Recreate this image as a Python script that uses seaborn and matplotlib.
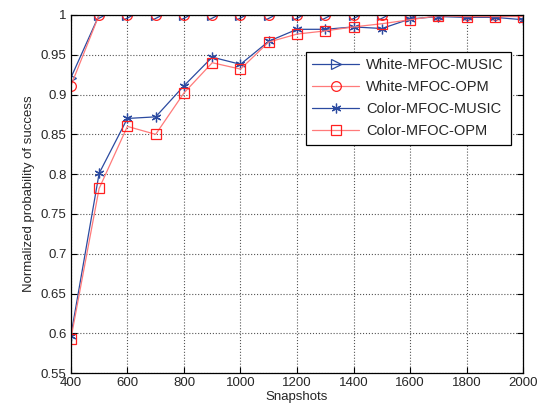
import pandas as pd
import matplotlib
matplotlib.use("Agg")
import matplotlib.pyplot as plt
import seaborn as sns

snapshots = [400, 500, 600, 700, 800, 900, 1000, 1100, 1200, 1300,
             1400, 1500, 1600, 1700, 1800, 1900, 2000]
white_music = [0.921, 1, 1, 1, 1, 1, 1, 1, 1, 1, 1, 1, 1, 1, 1, 1, 1]
white_opm = [0.911, 1, 1, 1, 1, 1, 1, 1, 1, 1, 1, 1, 1, 1, 1, 1, 1]
color_music = [0.597, 0.801, 0.870, 0.872, 0.911, 0.947, 0.938, 0.967, 0.982,
               0.982, 0.985, 0.983, 0.995, 0.998, 0.997, 0.997, 0.994]
color_opm = [0.593, 0.782, 0.860, 0.850, 0.902, 0.940, 0.932, 0.966, 0.976,
             0.980, 0.985, 0.989, 0.994, 0.999, 0.998, 0.998, 0.998]

sns.set_style("whitegrid", {"xtick.bottom": True, "ytick.left": True})
plt.rcParams['font.family'] = ['Liberation Sans', 'DejaVu Sans']

fig, ax = plt.subplots(figsize=(5.45, 4.16), dpi=100)
fig.subplots_adjust(left=0.13, right=0.96, top=0.964, bottom=0.103)

blue = '#2b4aa0'
red = '#ff2020'
pink = '#ff7a7a'

series = [
    ("White-MFOC-MUSIC", white_music, blue, blue, '>', 7),
    ("White-MFOC-OPM", white_opm, pink, red, 'o', 7),
    ("Color-MFOC-MUSIC", color_music, blue, blue, (6, 2, 0), 7),
    ("Color-MFOC-OPM", color_opm, pink, red, 's', 7),
]
for name, vals, lc, mc, mk, ms in series:
    df = pd.DataFrame({"Snapshots": snapshots, "p": vals})
    sns.lineplot(data=df, x="Snapshots", y="p", ax=ax, color=lc, lw=0.9,
                 marker=mk, markersize=ms, markerfacecolor='none',
                 markeredgecolor=mc, markeredgewidth=0.9, label=name)

ax.set_xlim(400, 2000)
ax.set_ylim(0.55, 1.0)
ax.set_xticks(range(400, 2001, 200))
ax.set_yticks([0.55, 0.6, 0.65, 0.7, 0.75, 0.8, 0.85, 0.9, 0.95, 1])
ax.set_yticklabels(['0.55', '0.6', '0.65', '0.7', '0.75', '0.8', '0.85', '0.9', '0.95', '1'])
ax.grid(True, color='#555555', linestyle=':', linewidth=0.8)
for s in ax.spines.values():
    s.set_color('black')
    s.set_linewidth(0.9)
ax.tick_params(direction='in', length=4, width=0.8, color='black', labelsize=9.5,
               top=True, right=True, bottom=True, left=True, pad=3)
ax.set_xlabel("Snapshots", fontsize=9.5, labelpad=1)
ax.set_ylabel("Normalized probability of success", fontsize=9.5, labelpad=4)

leg = ax.legend(loc='upper right', bbox_to_anchor=(0.972, 0.897), fontsize=10.5,
                frameon=True, fancybox=False, framealpha=1, edgecolor='black',
                borderpad=0.45, borderaxespad=0, handlelength=3.2,
                labelspacing=0.55, handletextpad=0.5)
leg.get_frame().set_linewidth(0.9)

plt.savefig("out.png", dpi=100)
